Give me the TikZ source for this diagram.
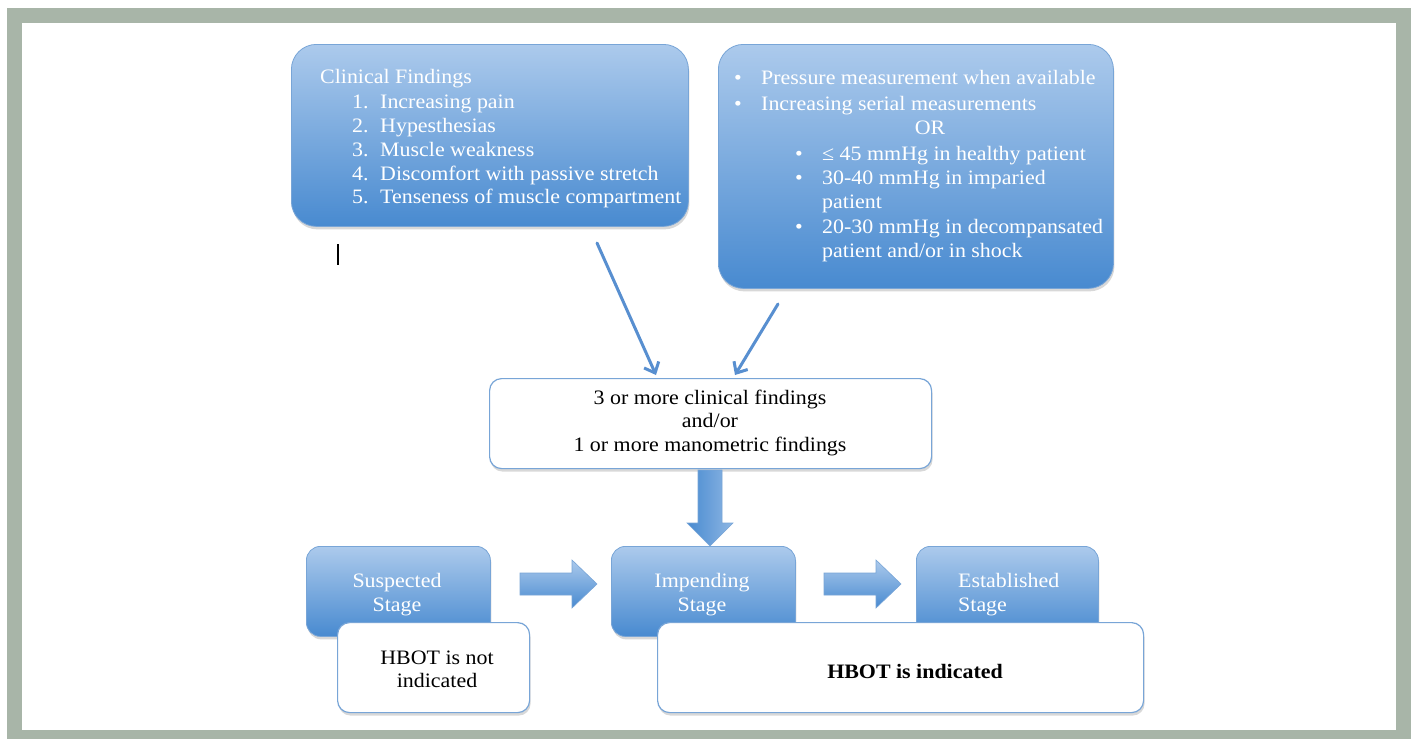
\documentclass[tikz,border=0pt]{standalone}
\usepackage{fontspec}
\setmainfont[FakeStretch=1.07]{Liberation Serif}
\usetikzlibrary{shadows,arrows.meta}
\definecolor{framegray}{RGB}{168,181,168}
\definecolor{btop}{RGB}{172,202,236}
\definecolor{bbot}{RGB}{72,138,208}
\definecolor{bedge}{RGB}{120,165,215}
\definecolor{arrblue}{RGB}{88,143,208}
\tikzset{
  bluebox/.style={draw=bedge, line width=0.8pt, top color=btop, bottom color=bbot,
    rounded corners=#1, inner sep=0pt, anchor=north west,
    drop shadow={opacity=0.3, shadow xshift=1pt, shadow yshift=-3pt}},
  bluebox/.default=25pt,
  whitebox/.style={draw=bedge, line width=1.2pt, fill=white, rounded corners=12pt,
    inner sep=0pt, anchor=north west,
    drop shadow={opacity=0.3, shadow xshift=1pt, shadow yshift=-3pt}},
  wtxt/.style={text=white, font=\fontsize{20.5}{24}\selectfont, inner sep=0pt, anchor=west,
    text height=14pt, text depth=4pt},
  btxt/.style={text=black, font=\fontsize{20.5}{24}\selectfont, inner sep=0pt,
    text height=14pt, text depth=4pt},
  thinarrow/.style={draw=arrblue, line width=3pt, line cap=round,
    -{Straight Barb[length=9pt,width=16pt,line width=3pt]}},
  blockarrow/.style={draw=bedge, line width=0.6pt}
}
\begin{document}
\begin{tikzpicture}[x=1pt,y=-1pt]
\useasboundingbox (0,0) rectangle (1416,739);
% frame
\fill[framegray] (7,8) rectangle (1411,739);
\fill[white] (22,23) rectangle (1396,730);

% top boxes
\node[bluebox, minimum width=397pt, minimum height=182pt] (clin) at (291,44) {};
\node[bluebox, minimum width=395pt, minimum height=244pt] (pres) at (718,44) {};

% clinical findings text
\node[wtxt] (c0) at (320,78) {Clinical Findings};
\foreach \n/\t/\y in {1/Increasing pain/103, 2/Hypesthesias/127, 3/Muscle weakness/151,
  4/Discomfort with passive stretch/175, 5/Tenseness of muscle compartment/198}{
  \node[wtxt] (cn\n) at (352,\y) {\n.};
  \node[wtxt] (ct\n) at (380,\y) {\t};
}

% pressure text
\node[wtxt] (pb1) at (734,79) {•};
\node[wtxt] (pt1) at (761,79) {Pressure measurement when available};
\node[wtxt] (pb2) at (734,105) {•};
\node[wtxt] (pt2) at (761,105) {Increasing serial measurements};
\node[wtxt, anchor=center] (por) at (930,129) {OR};
\node[wtxt] (pb3) at (795,155) {•};
\node[wtxt] (pt3) at (822,155) {≤ 45 mmHg in healthy patient};
\node[wtxt] (pb4) at (795,179) {•};
\node[wtxt] (pt4) at (822,179) {30-40 mmHg in imparied};
\node[wtxt] (pt4b) at (822,203) {patient};
\node[wtxt] (pb5) at (795,228) {•};
\node[wtxt] (pt5) at (822,228) {20-30 mmHg in decompansated};
\node[wtxt] (pt5b) at (822,252) {patient and/or in shock};

% cursor mark
\draw[black, line width=1.4pt] (338,244) -- (338,265);

% thin arrows
\coordinate (a1s) at (597,243);
\coordinate (a1e) at (656,375);
\coordinate (a2s) at (778,304);
\coordinate (a2e) at (735,375);
\draw[thinarrow] (a1s) -- (a1e);
\draw[thinarrow] (a2s) -- (a2e);

% middle box
\node[whitebox, minimum width=442pt, minimum height=90pt] (mid) at (489,378) {};
\node[btxt] (m1) at (710,399) {3 or more clinical findings};
\node[btxt] (m2) at (710,422) {and/or};
\node[btxt] (m3) at (710,446) {1 or more manometric findings};

% down block arrow
\path[blockarrow, left color=bbot, right color=btop!70!bbot]
  (698,470) -- (722,470) -- (722,523) -- (733,523) -- (710,546) -- (687,523) -- (698,523) -- cycle;

% stage boxes
\node[bluebox=14pt, minimum width=184pt, minimum height=90pt] (sus) at (306,546) {};
\node[bluebox=14pt, minimum width=184pt, minimum height=90pt] (imp) at (611,546) {};
\node[bluebox=14pt, minimum width=182pt, minimum height=90pt] (est) at (916,546) {};
\node[wtxt, anchor=center] (s1) at (397,582) {Suspected};
\node[wtxt, anchor=center] (s2) at (397,606) {Stage};
\node[wtxt, anchor=center] (i1) at (702,582) {Impending};
\node[wtxt, anchor=center] (i2) at (702,606) {Stage};
\node[wtxt] (e1) at (958,582) {Established};
\node[wtxt] (e2) at (958,606) {Stage};

% right block arrows
\path[blockarrow, top color=btop, bottom color=bbot]
  (520,573) -- (572,573) -- (572,560) -- (597,584) -- (572,608) -- (572,595) -- (520,595) -- cycle;
\path[blockarrow, top color=btop, bottom color=bbot]
  (824,573) -- (876,573) -- (876,560) -- (901,584) -- (876,608) -- (876,595) -- (824,595) -- cycle;

% HBOT boxes
\node[whitebox, minimum width=192pt, minimum height=90pt] (hno) at (337,622) {};
\node[whitebox, minimum width=486pt, minimum height=90pt] (hyes) at (657,622) {};
\node[btxt] (hn1) at (437,659) {HBOT is not};
\node[btxt] (hn2) at (437,682) {indicated};
\node[btxt, font=\fontsize{20.5}{24}\selectfont\bfseries] (hy) at (915,673) {HBOT is indicated};
\end{tikzpicture}
\end{document}
